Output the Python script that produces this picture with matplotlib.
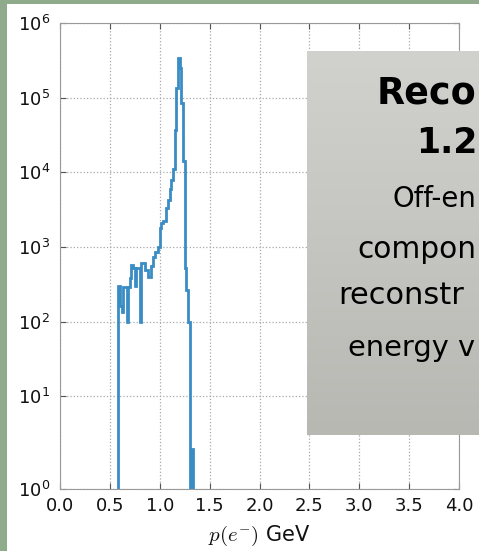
import numpy as np
import matplotlib
matplotlib.use("Agg")
import matplotlib.pyplot as plt
from matplotlib.patches import Rectangle
from matplotlib.ticker import FixedLocator, FixedFormatter, NullLocator

# ---- data: reconstructed electron momentum histogram ----
bin_width = 1.0 / 60.0          # GeV
first_bin = 35                  # index of the first filled bin (edge = first_bin * bin_width)
counts = [300, 160, 135, 295, 295, 100, 295, 380, 575, 530,
          300, 520, 520, 100, 615, 615, 500, 500, 400, 400,
          560, 745, 860, 860, 1000, 1800, 2100, 2250, 2250, 3300,
          4200, 6000, 8000, 11000, 37000, 135000, 340000, 250000, 85000, 14000,
          520, 267, 100, 0, 2]
x_ticks = [0.0, 0.5, 1.0, 1.5, 2.0, 2.5, 3.0, 3.5, 4.0]
y_decades = [0, 1, 2, 3, 4, 5, 6]

box_lines = ["Reco", "1.2", "Off-en", "compon", "reconstr", "energy v"]

edges = (np.arange(len(counts) + 1) + first_bin) * bin_width
centers = 0.5 * (edges[:-1] + edges[1:])

W, H = 479, 551
plt.rcParams['mathtext.fontset'] = 'cm'
fig = plt.figure(figsize=(W / 100, H / 100), dpi=100, facecolor='white')

def fx(px):
    return px / W

def fy(py):
    return 1 - py / H

# slide background strips
green = '#8fab8b'
fig.patches.append(Rectangle((0, 0), fx(7), 1, transform=fig.transFigure,
                             facecolor=green, edgecolor='none', zorder=-5))
fig.patches.append(Rectangle((0, fy(4)), 1, 4 / H, transform=fig.transFigure,
                             facecolor=green, edgecolor='none', zorder=-5))

ax = fig.add_axes([fx(60), fy(489), fx(459) - fx(60), fy(23) - fy(489)])
ax.hist(centers, bins=edges, weights=counts, histtype='step',
        color='#3a8cc4', linewidth=2.0, log=True)
ax.set_yscale('log', nonpositive='clip')

y_bottom = 10 ** -0.24
ax.set_xlim(x_ticks[0], x_ticks[-1])
ax.set_ylim(y_bottom, 10 ** y_decades[-1])

ax.xaxis.set_major_locator(FixedLocator(x_ticks))
ax.xaxis.set_major_formatter(FixedFormatter([f"{t:.1f}" for t in x_ticks]))
ypos = [y_bottom] + [10.0 ** d for d in y_decades[1:]]
ax.yaxis.set_major_locator(FixedLocator(ypos))
ax.yaxis.set_major_formatter(FixedFormatter(
    [r"$\mathdefault{10^{%d}}$" % d for d in y_decades]))
ax.yaxis.set_minor_locator(NullLocator())

for sp in ax.spines.values():
    sp.set_color('#999999')
    sp.set_linewidth(0.8)
ax.grid(True, linestyle=':', color='#a8a8a8', linewidth=0.9)
ax.tick_params(which='major', direction='in', top=True, right=True,
               length=4, width=0.8, color='#555555', labelsize=13,
               labelcolor='#111111')
ax.tick_params(axis='x', pad=6)
ax.tick_params(axis='y', pad=7)
ax.set_xlabel(r"$p(e^{-})$ GeV", fontsize=15, color='#111111', labelpad=6)

# grey call-out box
box = fig.add_axes([fx(307), fy(435), 1 - fx(307), fy(51) - fy(435)], zorder=2)
grad = np.linspace(0, 1, 256).reshape(-1, 1)
top_c = np.array([209, 209, 206]) / 255
bot_c = np.array([184, 184, 179]) / 255
img = top_c[None, None, :] * (1 - grad[..., None]) + bot_c[None, None, :] * grad[..., None]
box.imshow(img, aspect='auto', extent=[0, 1, 0, 1], interpolation='bilinear')
box.set_axis_off()

line_specs = [  # (left px, baseline px, size, weight)
    (377, 104, 26.3, 'bold'),
    (416, 153, 25, 'bold'),
    (392, 207, 19.8, 'normal'),
    (357, 258, 21.3, 'normal'),
    (338, 304, 22.0, 'normal'),
    (348, 356, 20.8, 'normal'),
]
for text, (lx, by, size, weight) in zip(box_lines, line_specs):
    fig.text(fx(lx), fy(by), text, fontsize=size, fontweight=weight,
             family='DejaVu Sans', color='black', ha='left', va='baseline',
             zorder=5)

fig.savefig('out.png', dpi=100, facecolor=fig.get_facecolor())
